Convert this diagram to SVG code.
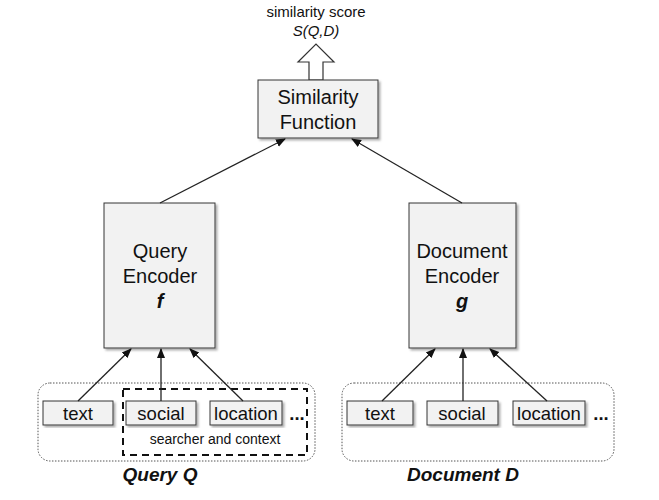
<svg xmlns="http://www.w3.org/2000/svg" width="659" height="500" viewBox="0 0 659 500">
<defs>
<marker id="ah" markerWidth="10" markerHeight="10" refX="9" refY="5" orient="auto" markerUnits="userSpaceOnUse"><path d="M0,1 L10,5 L0,9 Z" fill="#111"/></marker>
<filter id="sh"><feDropShadow dx="2" dy="2" stdDeviation="1" flood-color="#999" flood-opacity="0.8"/></filter>
</defs>
<style>
text{font-family:"Liberation Sans",Arial,sans-serif;fill:#111}
.box{fill:#f2f2f2;stroke:#333;stroke-width:1;filter:url(#sh)}
.grp{fill:#fff;stroke:#555;stroke-width:1;stroke-dasharray:1.5 1.5}
.c{stroke:#222;stroke-width:1.3;fill:none;marker-end:url(#ah)}
.big{font-size:20px}
.sm{font-size:18.5px}
</style>
<rect width="659" height="500" fill="#fff"/>
<g id="output">
<text x="316" y="17" text-anchor="middle" font-size="15">similarity score</text>
<text x="316" y="36" text-anchor="middle" font-size="15" font-style="italic">S(Q,D)</text>
<path d="M309,80 L309,62 L298,62 L316,44 L334,62 L323,62 L323,80 Z" fill="#fff" stroke="#333" stroke-width="1.2"/>
</g>
<g id="similarity">
<rect class="box" x="258" y="80" width="120" height="58"/>
<text class="big" x="318" y="104" text-anchor="middle">Similarity</text>
<text class="big" x="318" y="129" text-anchor="middle">Function</text>
</g>
<g id="query-encoder">
<rect class="box" x="104" y="203" width="111" height="145"/>
<text class="big" x="160" y="258" text-anchor="middle">Query</text>
<text class="big" x="160" y="283" text-anchor="middle">Encoder</text>
<text class="big" x="160" y="308" text-anchor="middle" font-weight="bold" font-style="italic">f</text>
</g>
<g id="document-encoder">
<rect class="box" x="409" y="203" width="107" height="145"/>
<text class="big" x="462" y="258" text-anchor="middle">Document</text>
<text class="big" x="462" y="283" text-anchor="middle">Encoder</text>
<text class="big" x="462" y="308" text-anchor="middle" font-weight="bold" font-style="italic">g</text>
</g>
<g id="query">
<rect class="grp" x="38" y="383" width="277" height="78" rx="12"/>
<rect x="123" y="389" width="184" height="66" fill="none" stroke="#111" stroke-width="2" stroke-dasharray="7 5"/>
<rect class="box" x="43" y="401" width="70" height="24"/>
<text class="sm" x="78" y="420" text-anchor="middle">text</text>
<rect class="box" x="126" y="401" width="70" height="24"/>
<text class="sm" x="161" y="420" text-anchor="middle">social</text>
<rect class="box" x="210" y="401" width="72" height="24"/>
<text class="sm" x="246" y="420" text-anchor="middle">location</text>
<text class="sm" x="297" y="420" text-anchor="middle" font-weight="bold">...</text>
<text x="215" y="444" text-anchor="middle" font-size="14">searcher and context</text>
<text x="160" y="481" text-anchor="middle" font-size="19" font-weight="bold" font-style="italic">Query Q</text>
</g>
<g id="document">
<rect class="grp" x="342" y="383" width="272" height="78" rx="12"/>
<rect class="box" x="347" y="401" width="66" height="24"/>
<text class="sm" x="380" y="420" text-anchor="middle">text</text>
<rect class="box" x="427" y="401" width="71" height="24"/>
<text class="sm" x="462" y="420" text-anchor="middle">social</text>
<rect class="box" x="513" y="401" width="72" height="24"/>
<text class="sm" x="549" y="420" text-anchor="middle">location</text>
<text class="sm" x="601" y="420" text-anchor="middle" font-weight="bold">...</text>
<text x="463" y="481" text-anchor="middle" font-size="19" font-weight="bold" font-style="italic">Document D</text>
</g>
<g id="connectors">
<line class="c" x1="78" y1="401" x2="131" y2="349"/>
<line class="c" x1="161" y1="401" x2="161" y2="349"/>
<line class="c" x1="243" y1="401" x2="190" y2="349"/>
<line class="c" x1="382" y1="401" x2="435" y2="349"/>
<line class="c" x1="463" y1="401" x2="463" y2="349"/>
<line class="c" x1="547" y1="401" x2="490" y2="349"/>
<line class="c" x1="160" y1="203" x2="285" y2="139"/>
<line class="c" x1="462" y1="203" x2="352" y2="139"/>
</g>
</svg>
